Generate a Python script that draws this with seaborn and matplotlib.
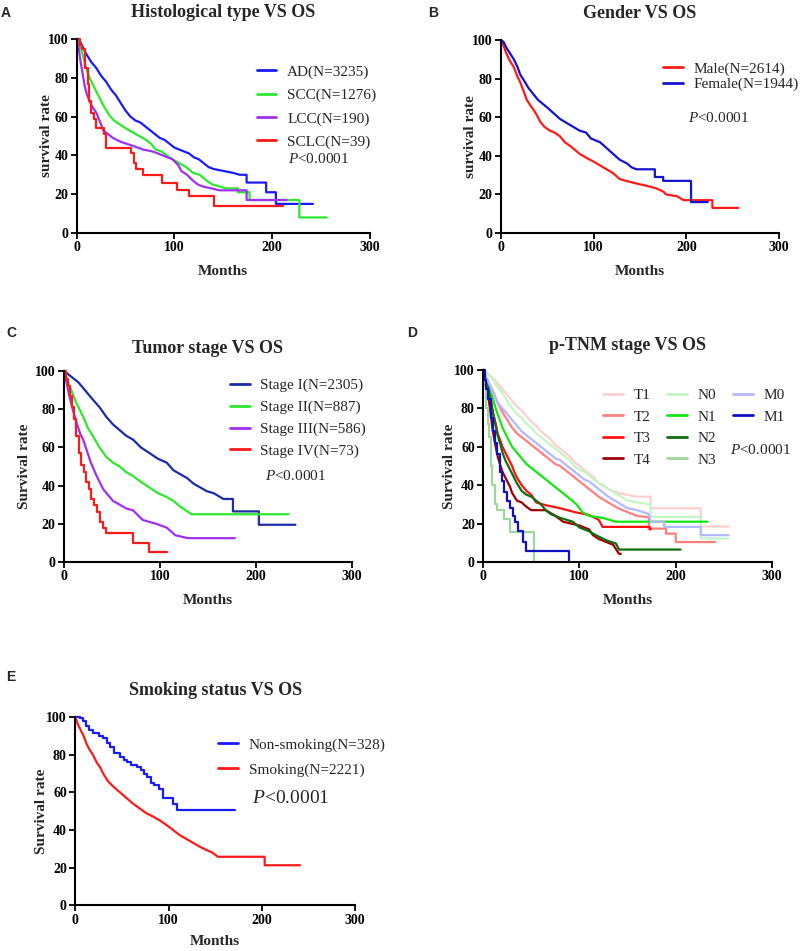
import numpy as np
import pandas as pd
import seaborn as sns
import matplotlib
matplotlib.use("Agg")
import matplotlib.pyplot as plt
from matplotlib.lines import Line2D

# ---- A: histological type (months, survival %) ----
a_ad_t = [0, 3, 6, 10, 15, 20, 25, 30, 35, 40, 45, 50, 55, 60, 65, 70, 75, 80, 85, 90, 95, 100,
          105, 110, 115, 120, 125, 130, 135, 140, 150, 160, 167, 174, 174, 194, 194, 204, 204, 242]
a_ad_s = [100, 99, 96, 92, 88, 85, 81, 78, 74, 71, 67, 63, 60, 58, 57, 55, 53, 51, 49, 48, 46, 44,
          43, 42, 41, 39, 38, 36, 34, 33, 32, 31, 30, 30, 26, 26, 21, 21, 15, 15]
a_scc_t = [0, 3, 6, 9, 13, 18, 23, 28, 33, 38, 44, 50, 57, 64, 71, 76, 81, 87, 92, 98, 105, 112,
           119, 126, 133, 139, 146, 153, 165, 165, 177, 177, 228, 228, 256]
a_scc_s = [100, 97, 92, 86, 80, 75, 70, 65, 61, 58, 56, 54, 52, 50, 48, 46, 43, 42, 40, 38, 36, 34,
           31, 30, 27, 25, 24, 23, 23, 21, 21, 17, 17, 8, 8]
a_lcc_t = [0, 2, 4, 6, 8, 10, 13, 16, 20, 24, 27, 32, 37, 45, 57, 68, 78, 88, 98, 104, 107, 113,
           119, 124, 129, 138, 146, 174, 174, 215]
a_lcc_s = [100, 95, 88, 82, 76, 72, 68, 65, 62, 57, 53, 51, 49, 47, 45, 43, 42, 40, 38, 35, 32, 30,
           27, 25, 24, 23, 22, 22, 17, 17]
a_sclc_t = [0, 3, 5, 8, 11, 13, 15, 18, 20, 28, 30, 56, 59, 61, 68, 87, 103, 115, 141, 211]
a_sclc_s = [100, 97, 95, 85, 77, 68, 62, 59, 54, 51, 44, 41, 36, 33, 30, 26, 22, 19, 14, 14]

# ---- B: gender ----
b_male_t = [0, 3, 6, 10, 14, 18, 21, 25, 28, 32, 35, 39, 42, 47, 53, 58, 64, 69, 75, 80, 85, 92,
            100, 107, 114, 121, 128, 135, 143, 152, 161, 168, 175, 178, 190, 197, 228, 228, 256]
b_male_s = [100, 97, 93, 89, 86, 81, 78, 73, 69, 66, 64, 61, 58, 55, 53, 52, 50, 47, 45, 43, 41, 39,
            37, 35, 33, 31, 28, 27, 26, 25, 24, 23, 21.5, 20, 19, 17, 17, 13, 13]
b_female_t = [0, 3, 6, 10, 14, 18, 21, 25, 30, 35, 40, 45, 50, 57, 64, 71, 78, 85, 92, 97, 107,
              114, 121, 128, 136, 141, 146, 166, 166, 175, 175, 205, 205, 223]
b_female_s = [100, 99, 96, 93, 90, 86, 82, 79, 75, 72, 69, 67, 65, 62, 59, 57, 55, 53, 52, 49, 47,
              44, 41, 38, 36, 34, 33, 33, 29, 29, 27, 27, 16, 16]

# ---- C: tumor stage ----
c_s1_t = [0, 5, 10, 15, 20, 25, 30, 37, 44, 51, 58, 65, 72, 80, 89, 98, 107, 114, 121, 128, 135,
          142, 149, 156, 166, 176, 176, 203, 203, 241]
c_s1_s = [100, 98, 96, 94, 91, 88, 85, 81, 76, 72, 69, 66, 64, 60, 57, 54, 52, 48, 46, 44, 41,
          39, 37, 36, 33, 33, 26.5, 26.5, 19.5, 19.5]
c_s2_t = [0, 3, 6, 9, 13, 17, 20, 25, 30, 37, 44, 51, 58, 65, 72, 80, 89, 98, 107, 114, 121, 127,
          133, 234]
c_s2_s = [100, 96, 92, 88, 83, 79, 76, 70, 66, 60, 55, 52, 50, 47, 45, 42, 39, 36, 34, 32, 29, 27,
          25, 25]
c_s3_t = [0, 3, 6, 9, 13, 17, 20, 24, 28, 34, 41, 46, 51, 58, 65, 72, 82, 89, 96, 107, 116, 129, 178]
c_s3_s = [100, 93, 86, 80, 73, 67, 64, 58, 52, 45, 38, 35, 32, 30, 28, 27, 22, 21, 20, 18, 14,
          12.5, 12.5]
c_s4_t = [0, 2, 4, 6, 8, 10, 13, 16, 18, 21, 23, 26, 28, 31, 34, 37, 41, 44, 72, 89, 107]
c_s4_s = [100, 96, 92, 87, 81, 75, 66, 57, 51, 47, 42, 38, 33, 30, 26, 21, 18, 15, 10, 5, 5]

# ---- D: p-TNM stage ----
d_t1_t = [0, 5, 10, 15, 20, 25, 30, 35, 40, 45, 50, 55, 60, 65, 70, 75, 80, 85, 90, 95, 100, 105,
          110, 115, 120, 125, 130, 140, 150, 160, 174, 174, 226, 226, 255]
d_t1_s = [100, 98, 96, 93, 90, 87, 84, 81, 79, 76, 73, 71, 68, 66, 64, 61, 59, 57, 55, 52, 50, 48,
          46, 44, 41, 40, 38, 36, 35, 34, 34, 28, 28, 18.5, 18.5]
d_t2_t = [0, 3, 5, 8, 10, 15, 20, 25, 30, 35, 40, 45, 50, 55, 60, 65, 70, 75, 80, 85, 90, 95, 100,
          105, 110, 115, 120, 130, 140, 150, 160, 169, 172, 172, 190, 190, 200, 200, 241]
d_t2_s = [100, 96, 94, 91, 89, 83, 78, 74, 70, 67, 65, 63, 61, 59, 57, 55, 53, 51, 50, 48, 46, 44,
          42, 40, 38, 36, 34, 31, 28, 26, 24, 23.5, 23.5, 17.4, 17.4, 14.8, 14.8, 10.4, 10.4]
d_t3_t = [0, 3, 5, 8, 10, 13, 15, 18, 20, 23, 25, 28, 30, 33, 35, 40, 45, 50, 55, 65, 80, 95, 110,
          120, 124, 173, 173, 174]
d_t3_s = [100, 94, 90, 84, 78, 72, 67, 63, 60, 57, 55, 52, 50, 46, 44, 40, 37, 35, 31, 29.6, 28,
          26, 24.5, 22, 18.3, 18.3, 17, 17]
d_t4_t = [0, 3, 5, 7, 10, 13, 15, 18, 20, 23, 25, 28, 30, 35, 40, 45, 50, 65, 75, 83, 100, 110,
          114, 120, 128, 135, 141, 143]
d_t4_s = [100, 94, 87, 80, 68, 60, 55, 50, 47, 44, 42, 39, 36, 32, 31, 28.7, 27, 27, 24, 21, 19,
          17, 14, 12, 10.4, 9, 4.3, 4.3]
d_n0_t = [0, 5, 10, 15, 20, 25, 30, 35, 40, 45, 50, 55, 60, 65, 70, 75, 80, 85, 90, 95, 100, 105,
          110, 115, 120, 130, 140, 150, 160, 174, 174, 226, 226, 255]
d_n0_s = [100, 98, 95, 91, 88, 84, 80, 77, 75, 72, 70, 67, 65, 63, 61, 59, 57, 55, 53, 50, 48, 47,
          45, 43, 41, 38, 35, 32, 31, 30, 23.5, 23.5, 12.3, 12.3]
d_n1_t = [0, 3, 5, 8, 10, 13, 15, 18, 20, 23, 25, 28, 30, 35, 40, 45, 50, 55, 60, 65, 70, 75, 80,
          85, 90, 97, 103, 110, 124, 138, 233]
d_n1_s = [100, 96, 94, 89, 85, 80, 77, 73, 70, 67, 65, 62, 60, 57, 54, 51, 49, 47, 45, 43, 41, 39,
          37, 35, 33, 30, 26, 24, 23, 21, 21]
d_n2_t = [0, 3, 5, 8, 10, 13, 15, 18, 20, 23, 25, 28, 30, 35, 40, 45, 50, 55, 60, 65, 70, 80, 93,
          100, 110, 117, 128, 138, 141, 205]
d_n2_s = [100, 95, 91, 84, 78, 71, 66, 61, 57, 53, 51, 48, 46, 41, 37, 35, 34, 32, 30, 27, 25, 23,
          21, 18, 16, 14, 11.3, 9.6, 6.5, 6.5]
d_n3_t = [0, 2, 3, 5, 6, 8, 9, 12, 14, 22, 28, 53]
d_n3_s = [100, 92, 80, 72, 65, 50, 40, 30, 27, 22.6, 15.6, 0]
d_m0_t = [0, 3, 5, 8, 10, 15, 20, 25, 30, 35, 40, 45, 50, 55, 60, 65, 70, 75, 80, 85, 90, 95, 100,
          105, 110, 115, 120, 125, 130, 140, 150, 160, 172, 174, 188, 188, 226, 226, 255]
d_m0_s = [100, 96, 94, 91, 88, 83, 80, 77, 74, 71, 68, 66, 64, 62, 60, 58, 56, 54, 53, 51, 49, 47,
          45, 43, 42, 40, 38, 36, 34, 31, 28, 27, 25, 21, 21, 18.3, 18.3, 14, 14]
d_m1_t = [0, 2, 3, 5, 8, 10, 12, 14, 17, 20, 22, 25, 28, 31, 33, 36, 41, 44, 89]
d_m1_s = [100, 95, 90, 85, 75, 68, 62, 56, 47, 42, 36.5, 32, 28, 24, 21, 16, 10.4, 5.5, 0]

# ---- E: smoking status ----
e_non_t = [0, 5, 8, 12, 15, 19, 25, 30, 34, 37, 42, 48, 52, 55, 60, 66, 70, 74, 77, 81, 84, 90,
           94, 105, 109, 171]
e_non_s = [100, 99.5, 98, 95, 93, 91.5, 90, 89, 86, 84, 81, 79, 77, 76, 74.5, 73.5, 72, 70, 68,
           65, 64, 62, 57, 54, 50.6, 50.6]
e_smk_t = [0, 3, 6, 9, 12, 15, 19, 23, 27, 30, 35, 41, 48, 55, 62, 69, 76, 84, 91, 98, 105, 112,
           120, 127, 134, 141, 147, 153, 203, 203, 241]
e_smk_s = [100, 96, 93, 90, 86, 83, 80, 76, 73, 70, 66, 63, 60, 57, 54, 51.5, 49, 47, 45, 42.6,
           40, 37.3, 35, 33, 31, 29.3, 28, 25.8, 25.8, 21.3, 21.3]

BLUE = '#1a1aff'
GREEN = '#2ee82e'
PURPLE = '#a030f0'
RED = '#ff1a1a'
STEP = 'steps-post'
LINE = 'default'

sns.set_style("ticks")
plt.rcParams['font.family'] = ['Liberation Serif', 'DejaVu Serif']
plt.rcParams['mathtext.fontset'] = 'custom'
plt.rcParams['mathtext.rm'] = 'Liberation Serif'
plt.rcParams['mathtext.it'] = 'Liberation Serif:italic'

fig = plt.figure(figsize=(8, 9.51), dpi=100)


def draw_curves(ax, curves):
    handles = []
    for name, t, s, color, style in curves:
        df = pd.DataFrame({'Months': t, 'rate': s})
        sns.lineplot(data=df, x='Months', y='rate', ax=ax, color=color, lw=1.6,
                     drawstyle=style, estimator=None, sort=False, legend=False,
                     clip_on=False)
        handles.append(Line2D([], [], color=color, lw=2.0, label=name))
    return handles


def style_axes(ax, title, ylabel, title_pad=16, ypad=1, xpad=7.5):
    ax.set_xlim(0, 300)
    ax.set_ylim(0, 100)
    ax.set_xticks([0, 100, 200, 300])
    ax.set_yticks([0, 20, 40, 60, 80, 100])
    sns.despine(ax=ax)
    for sp in ['left', 'bottom']:
        ax.spines[sp].set_linewidth(1.5)
        ax.spines[sp].set_color('black')
    ax.tick_params(direction='out', length=4, width=1.3, labelsize=10, pad=2, colors='black')
    for lab in ax.get_xticklabels() + ax.get_yticklabels():
        lab.set_fontweight('bold')
    ax.set_xlabel('Months', fontsize=11, fontweight='bold', labelpad=xpad)
    ax.set_ylabel(ylabel, fontsize=11, fontweight='bold', labelpad=ypad)
    ax.set_title(title, fontsize=13, fontweight='bold', pad=title_pad)


def add_legend(ax, handles, x, y, spacing=0.45, ncol=1, colsp=0.9):
    ax.legend(handles=handles, loc='upper left', bbox_to_anchor=(x, y), frameon=False,
              fontsize=11, borderpad=0, borderaxespad=0, handlelength=1.3,
              handletextpad=0.7, labelspacing=spacing, ncol=ncol, columnspacing=colsp)


def add_p(ax, x, y, size=11):
    ax.text(x, y, r'$\mathit{P}$<0.0001', transform=ax.transAxes, fontsize=size,
            va='center', ha='left')


# Panel A
axA = fig.add_axes([0.096, 0.755, 0.366, 0.204])
h = draw_curves(axA, [('AD(N=3235)', a_ad_t, a_ad_s, BLUE, LINE),
                      ('SCC(N=1276)', a_scc_t, a_scc_s, GREEN, LINE),
                      ('LCC(N=190)', a_lcc_t, a_lcc_s, PURPLE, LINE),
                      ('SCLC(N=39)', a_sclc_t, a_sclc_s, RED, STEP)])
style_axes(axA, 'Histological type VS OS', 'survival rate', title_pad=16, ypad=-4)
add_legend(axA, h, 0.614, 0.866, spacing=0.62)
add_p(axA, 0.72, 0.38)

# Panel B
axB = fig.add_axes([0.626, 0.755, 0.348, 0.203])
h = draw_curves(axB, [('Male(N=2614)', b_male_t, b_male_s, RED, LINE),
                      ('Female(N=1944)', b_female_t, b_female_s, '#1414cc', LINE)])
style_axes(axB, 'Gender VS OS', 'survival rate', title_pad=16, ypad=-4)
add_legend(axB, h, 0.583, 0.885, spacing=0.1)
add_p(axB, 0.672, 0.596)

# Panel C
axC = fig.add_axes([0.08, 0.409, 0.36, 0.201])
h = draw_curves(axC, [('Stage I(N=2305)', c_s1_t, c_s1_s, '#1c2ba8', LINE),
                      ('Stage II(N=887)', c_s2_t, c_s2_s, GREEN, LINE),
                      ('Stage III(N=586)', c_s3_t, c_s3_s, PURPLE, LINE),
                      ('Stage IV(N=73)', c_s4_t, c_s4_s, RED, STEP)])
style_axes(axC, 'Tumor stage VS OS', 'Survival rate', title_pad=13, ypad=3)
add_legend(axC, h, 0.576, 0.96, spacing=0.52)
add_p(axC, 0.698, 0.451)

# Panel D
axD = fig.add_axes([0.604, 0.409, 0.361, 0.202])
h = draw_curves(axD, [('T1', d_t1_t, d_t1_s, '#ffcfcf', LINE),
                      ('T2', d_t2_t, d_t2_s, '#ff7f7f', LINE),
                      ('T3', d_t3_t, d_t3_s, '#ff1010', LINE),
                      ('T4', d_t4_t, d_t4_s, '#a00000', LINE),
                      ('N0', d_n0_t, d_n0_s, '#c4f5c4', LINE),
                      ('N1', d_n1_t, d_n1_s, '#14e614', LINE),
                      ('N2', d_n2_t, d_n2_s, '#0f6e0f', LINE),
                      ('N3', d_n3_t, d_n3_s, '#9cd89c', STEP),
                      ('M0', d_m0_t, d_m0_s, '#b4b8ff', LINE),
                      ('M1', d_m1_t, d_m1_s, '#1010c0', STEP)])
blank = [Line2D([], [], alpha=0, label=' '), Line2D([], [], alpha=0, label=' ')]
add_legend(axD, h + blank, 0.415, 0.905, spacing=0.52, ncol=3, colsp=1.1)
style_axes(axD, 'p-TNM stage VS OS', 'Survival rate', title_pad=14, ypad=-1)
add_p(axD, 0.855, 0.583)

# Panel E
axE = fig.add_axes([0.094, 0.048, 0.35, 0.198])
h = draw_curves(axE, [('Non-smoking(N=328)', e_non_t, e_non_s, BLUE, STEP),
                      ('Smoking(N=2221)', e_smk_t, e_smk_s, RED, LINE)])
style_axes(axE, 'Smoking status VS OS', 'Survival rate', title_pad=16, ypad=-1, xpad=6)
add_legend(axE, h, 0.51, 0.89, spacing=0.75)
add_p(axE, 0.632, 0.569, size=14)

# panel letters
for letter, x, y in [('A', 6, 13), ('B', 433, 13), ('C', 11, 333), ('D', 412, 333), ('E', 11, 677)]:
    fig.text(x / 800, 1 - y / 951, letter, fontsize=10, fontweight='bold',
             family='Liberation Sans', ha='center', va='center')

fig.savefig('out.png', dpi=100, facecolor='white')
